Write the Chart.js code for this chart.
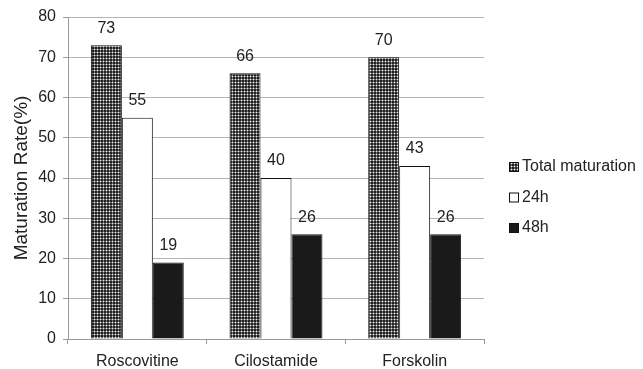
<!DOCTYPE html>
<html>
<head>
<meta charset="utf-8">
<script src="https://cdn.jsdelivr.net/npm/chart.js@4"></script>
<style>
  html, body { margin: 0; padding: 0; background: #fff; }
  #wrap { width: 643px; height: 369px; }
</style>
</head>
<body>
<div id="wrap"><canvas id="maturationChart" width="643" height="369"></canvas></div>
<script>
const categories = ['Roscovitine', 'Cilostamide', 'Forskolin'];
const seriesNames = ['Total maturation', '24h', '48h'];
const totalMaturation = [73, 66, 70];
const after24h = [55, 40, 43];
const after48h = [19, 26, 26];

const FONT = '"Liberation Sans", Arial, sans-serif';

// dotted fill like the original "Total maturation" bars
function makeDots() {
    const c = document.createElement('canvas');
    c.width = 3; c.height = 3;
    const g = c.getContext('2d');
    g.fillStyle = '#222';
    g.fillRect(0, 0, 3, 3);
    g.fillStyle = '#707070';
    g.fillRect(1, 0, 1, 3);
    g.fillRect(0, 1, 3, 1);
    g.fillStyle = '#f4f4f4';
    g.fillRect(1, 1, 1, 1);
    return g.createPattern(c, 'repeat');
}
const dots = makeDots();

const valueLabels = {
    id: 'valueLabels',
    afterDatasetsDraw(chart) {
        const ctx = chart.ctx;
        ctx.save();
        ctx.font = '16px ' + FONT;
        ctx.fillStyle = '#222';
        ctx.textAlign = 'center';
        ctx.textBaseline = 'middle';
        chart.data.datasets.forEach((ds, i) => {
            chart.getDatasetMeta(i).data.forEach((bar, j) => {
                ctx.fillText(ds.data[j], bar.x, bar.y - 17);
            });
        });
        ctx.restore();
    }
};

const sideLegend = {
    id: 'sideLegend',
    afterDraw(chart) {
        const ctx = chart.ctx;
        ctx.save();
        ctx.font = '16px ' + FONT;
        ctx.textBaseline = 'middle';
        chart.data.datasets.forEach((ds, i) => {
            const y = 167 + i * 30.5;
            ctx.fillStyle = ds.backgroundColor;
            ctx.fillRect(509, y - 5, 10, 10);
            ctx.strokeStyle = '#111';
            ctx.lineWidth = 1;
            ctx.strokeRect(509.5, y - 4.5, 9, 9);
            ctx.fillStyle = '#222';
            ctx.fillText(ds.label, 522, y);
        });
        ctx.restore();
    }
};

const ctx = document.getElementById('maturationChart').getContext('2d');
new Chart(ctx, {
    type: 'bar',
    data: {
        labels: categories,
        datasets: [
            { label: seriesNames[0], data: totalMaturation, backgroundColor: dots, borderColor: '#111', borderWidth: 1 },
            { label: seriesNames[1], data: after24h, backgroundColor: '#ffffff', borderColor: '#111', borderWidth: 1 },
            { label: seriesNames[2], data: after48h, backgroundColor: '#1a1a1a', borderColor: '#1a1a1a', borderWidth: 1 }
        ]
    },
    options: {
        responsive: false,
        animation: false,
        devicePixelRatio: 1,
        layout: { padding: { top: 17, right: 159, left: 0, bottom: 0 } },
        datasets: { bar: { barPercentage: 1, categoryPercentage: 0.67 } },
        plugins: { legend: { display: false }, tooltip: { enabled: false } },
        scales: {
            y: {
                min: 0, max: 80,
                ticks: { stepSize: 10, color: '#222', padding: 7, font: { size: 16, family: FONT } },
                grid: { color: '#b4b4b4', tickLength: 5, tickColor: '#999' },
                border: { color: '#999' },
                title: { display: true, text: 'Maturation Rate(%)', color: '#222', font: { size: 19, family: FONT }, padding: { top: 10, bottom: 0 } },
                afterFit(scale) { scale.width = 68; }
            },
            x: {
                ticks: { color: '#222', padding: 8, font: { size: 16, family: FONT } },
                grid: { drawOnChartArea: false, offset: true, tickLength: 5, tickColor: '#999' },
                border: { color: '#999' },
                afterFit(scale) { scale.height = 30; }
            }
        }
    },
    plugins: [valueLabels, sideLegend]
});
</script>
</body>
</html>
